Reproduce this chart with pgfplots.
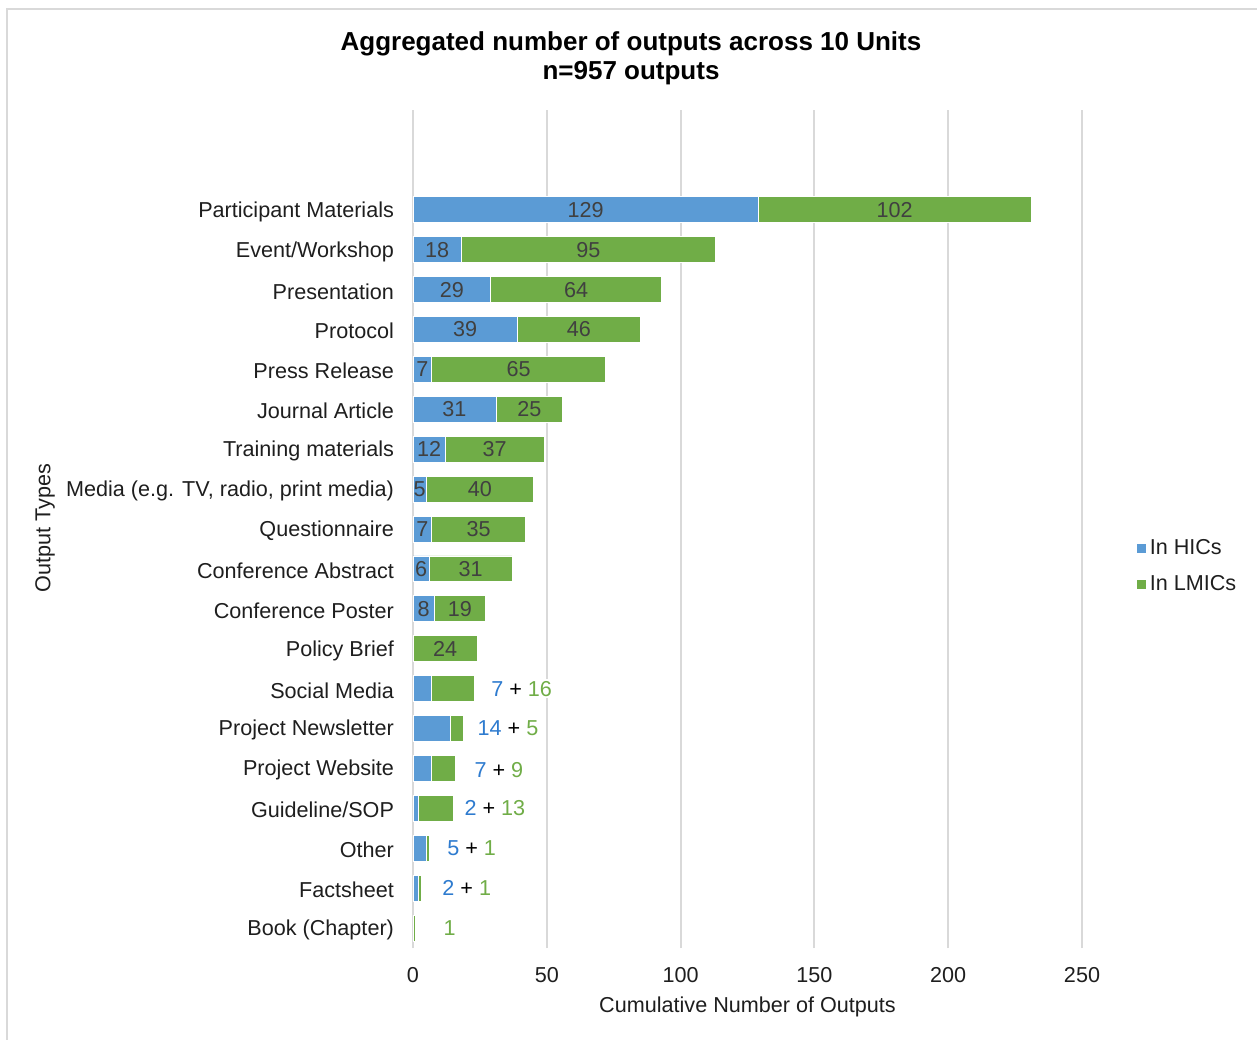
\documentclass[border=0pt]{standalone}
\usepackage{pgfplots}
\pgfplotsset{compat=1.18}
\usepackage{pgfplotstable}
\usepackage{fontspec}
\setmainfont{Liberation Sans}
\definecolor{hicblue}{HTML}{5B9BD5}
\definecolor{lmicgreen}{HTML}{70AD47}
\definecolor{annblue}{HTML}{2E7BCF}
\definecolor{gridgray}{HTML}{D9D9D9}
\definecolor{labgray}{HTML}{404040}
\definecolor{txtgray}{HTML}{1E1E1E}
\newcommand{\lblfont}{\fontsize{10.8}{13}\selectfont}
\pgfplotstableread{
y hic lmic
0 0 1
1 2 1
2 5 1
3 2 13
4 7 9
5 14 5
6 7 16
7 0 24
8 8 19
9 6 31
10 7 35
11 5 40
12 12 37
13 31 25
14 7 65
15 39 46
16 29 64
17 18 95
18 129 102
}\datatab
\begin{document}
\begin{tikzpicture}
\useasboundingbox (0,0) rectangle (628.5pt,519.5pt);
\draw[gridgray, line width=0.8pt] (3.5pt,-2pt) -- (3.5pt,515pt) -- (640pt,515pt);
\begin{axis}[
  at={(206.5pt,45.5pt)}, anchor=south west,
  scale only axis, width=334.5pt, height=419pt,
  xbar stacked, bar width=0.65,
  xmin=0, xmax=250, ymin=-0.5, ymax=20.5,
  xtick={0,50,...,250},
  ytick={0,...,18},
  yticklabels={Book (Chapter),Factsheet,Other,Guideline/SOP,Project Website,Project Newsletter,Social Media,Policy Brief,Conference Poster,Conference Abstract,Questionnaire,{Media (e.g. TV, radio, print media)},Training materials,Journal Article,Press Release,Protocol,Presentation,Event/Workshop,Participant Materials},
  axis line style={draw=none},
  major tick length=0pt,
  xmajorgrids, grid style={draw=gridgray, line width=1pt},
  /pgf/number format/assume math mode=true,
  ticklabel style={font=\lblfont, text=txtgray},
  yticklabel style={xshift=-6pt, yshift=-0.9pt},
  xticklabel style={yshift=-6pt},
  legend style={at={(1.081,0.455)}, anchor=west, draw=none, fill=none, font=\lblfont, text=txtgray, row sep=5pt, inner sep=0pt},
  legend cell align=left,
  legend image code/.code={\fill[#1,draw=none] (0pt,-2.3pt) rectangle (4.6pt,2.3pt);},
  clip=false,
]
\addplot[fill=hicblue, draw=white, line width=0.4pt] table[x=hic,y=y]{\datatab};
\addplot[fill=lmicgreen, draw=white, line width=0.4pt] table[x=lmic,y=y]{\datatab};
\legend{In HICs, In LMICs}
\coordinate (i1) at (axis cs:64.5,18);
\coordinate (i2) at (axis cs:180,18);
\coordinate (i3) at (axis cs:9,17);
\coordinate (i4) at (axis cs:65.5,17);
\coordinate (i5) at (axis cs:14.5,16);
\coordinate (i6) at (axis cs:61,16);
\coordinate (i7) at (axis cs:19.5,15);
\coordinate (i8) at (axis cs:62,15);
\coordinate (i9) at (axis cs:3.5,14);
\coordinate (i10) at (axis cs:39.5,14);
\coordinate (i11) at (axis cs:15.5,13);
\coordinate (i12) at (axis cs:43.5,13);
\coordinate (i13) at (axis cs:6,12);
\coordinate (i14) at (axis cs:30.5,12);
\coordinate (i15) at (axis cs:2.5,11);
\coordinate (i16) at (axis cs:25,11);
\coordinate (i17) at (axis cs:3.5,10);
\coordinate (i18) at (axis cs:24.5,10);
\coordinate (i19) at (axis cs:3,9);
\coordinate (i20) at (axis cs:21.5,9);
\coordinate (i21) at (axis cs:4,8);
\coordinate (i22) at (axis cs:17.5,8);
\coordinate (i23) at (axis cs:12,7);
\coordinate (o1) at (axis cs:40.6,6);
\coordinate (o2) at (axis cs:35.5,5);
\coordinate (o3) at (axis cs:32.1,3.95);
\coordinate (o4) at (axis cs:30.6,3);
\coordinate (o5) at (axis cs:21.9,2);
\coordinate (o6) at (axis cs:20.1,1);
\coordinate (o7) at (axis cs:13.7,0);
\end{axis}
\begin{scope}[every node/.style={font=\lblfont, text=labgray, inner sep=0pt}]
\node at (i1) {129};
\node at (i2) {102};
\node at (i3) {18};
\node at (i4) {95};
\node at (i5) {29};
\node at (i6) {64};
\node at (i7) {39};
\node at (i8) {46};
\node at (i9) {7};
\node at (i10) {65};
\node at (i11) {31};
\node at (i12) {25};
\node at (i13) {12};
\node at (i14) {37};
\node at (i15) {5};
\node at (i16) {40};
\node at (i17) {7};
\node at (i18) {35};
\node at (i19) {6};
\node at (i20) {31};
\node at (i21) {8};
\node at (i22) {19};
\node at (i23) {24};
\end{scope}
\begin{scope}[every node/.style={font=\lblfont, fill=white, text=black, inner sep=1pt}]
\node at (o1) {\textcolor{annblue}{7} + \textcolor{lmicgreen}{16}};
\node at (o2) {\textcolor{annblue}{14} + \textcolor{lmicgreen}{5}};
\node at (o3) {\textcolor{annblue}{7} + \textcolor{lmicgreen}{9}};
\node at (o4) {\textcolor{annblue}{2} + \textcolor{lmicgreen}{13}};
\node at (o5) {\textcolor{annblue}{5} + \textcolor{lmicgreen}{1}};
\node at (o6) {\textcolor{annblue}{2} + \textcolor{lmicgreen}{1}};
\node at (o7) {\textcolor{lmicgreen}{1}};
\end{scope}
\node[font=\fontsize{13}{15}\selectfont\bfseries, text=black] at (315.5pt,497.5pt) {Aggregated number of outputs across 10 Units};
\node[font=\fontsize{13}{15}\selectfont\bfseries, text=black] at (315.5pt,483pt) {n=957 outputs};
\node[font=\lblfont, text=txtgray] at (373.75pt,16pt) {Cumulative Number of Outputs};
\node[font=\lblfont, text=txtgray, rotate=90] at (22.5pt,255.5pt) {Output Types};
\end{tikzpicture}
\end{document}
